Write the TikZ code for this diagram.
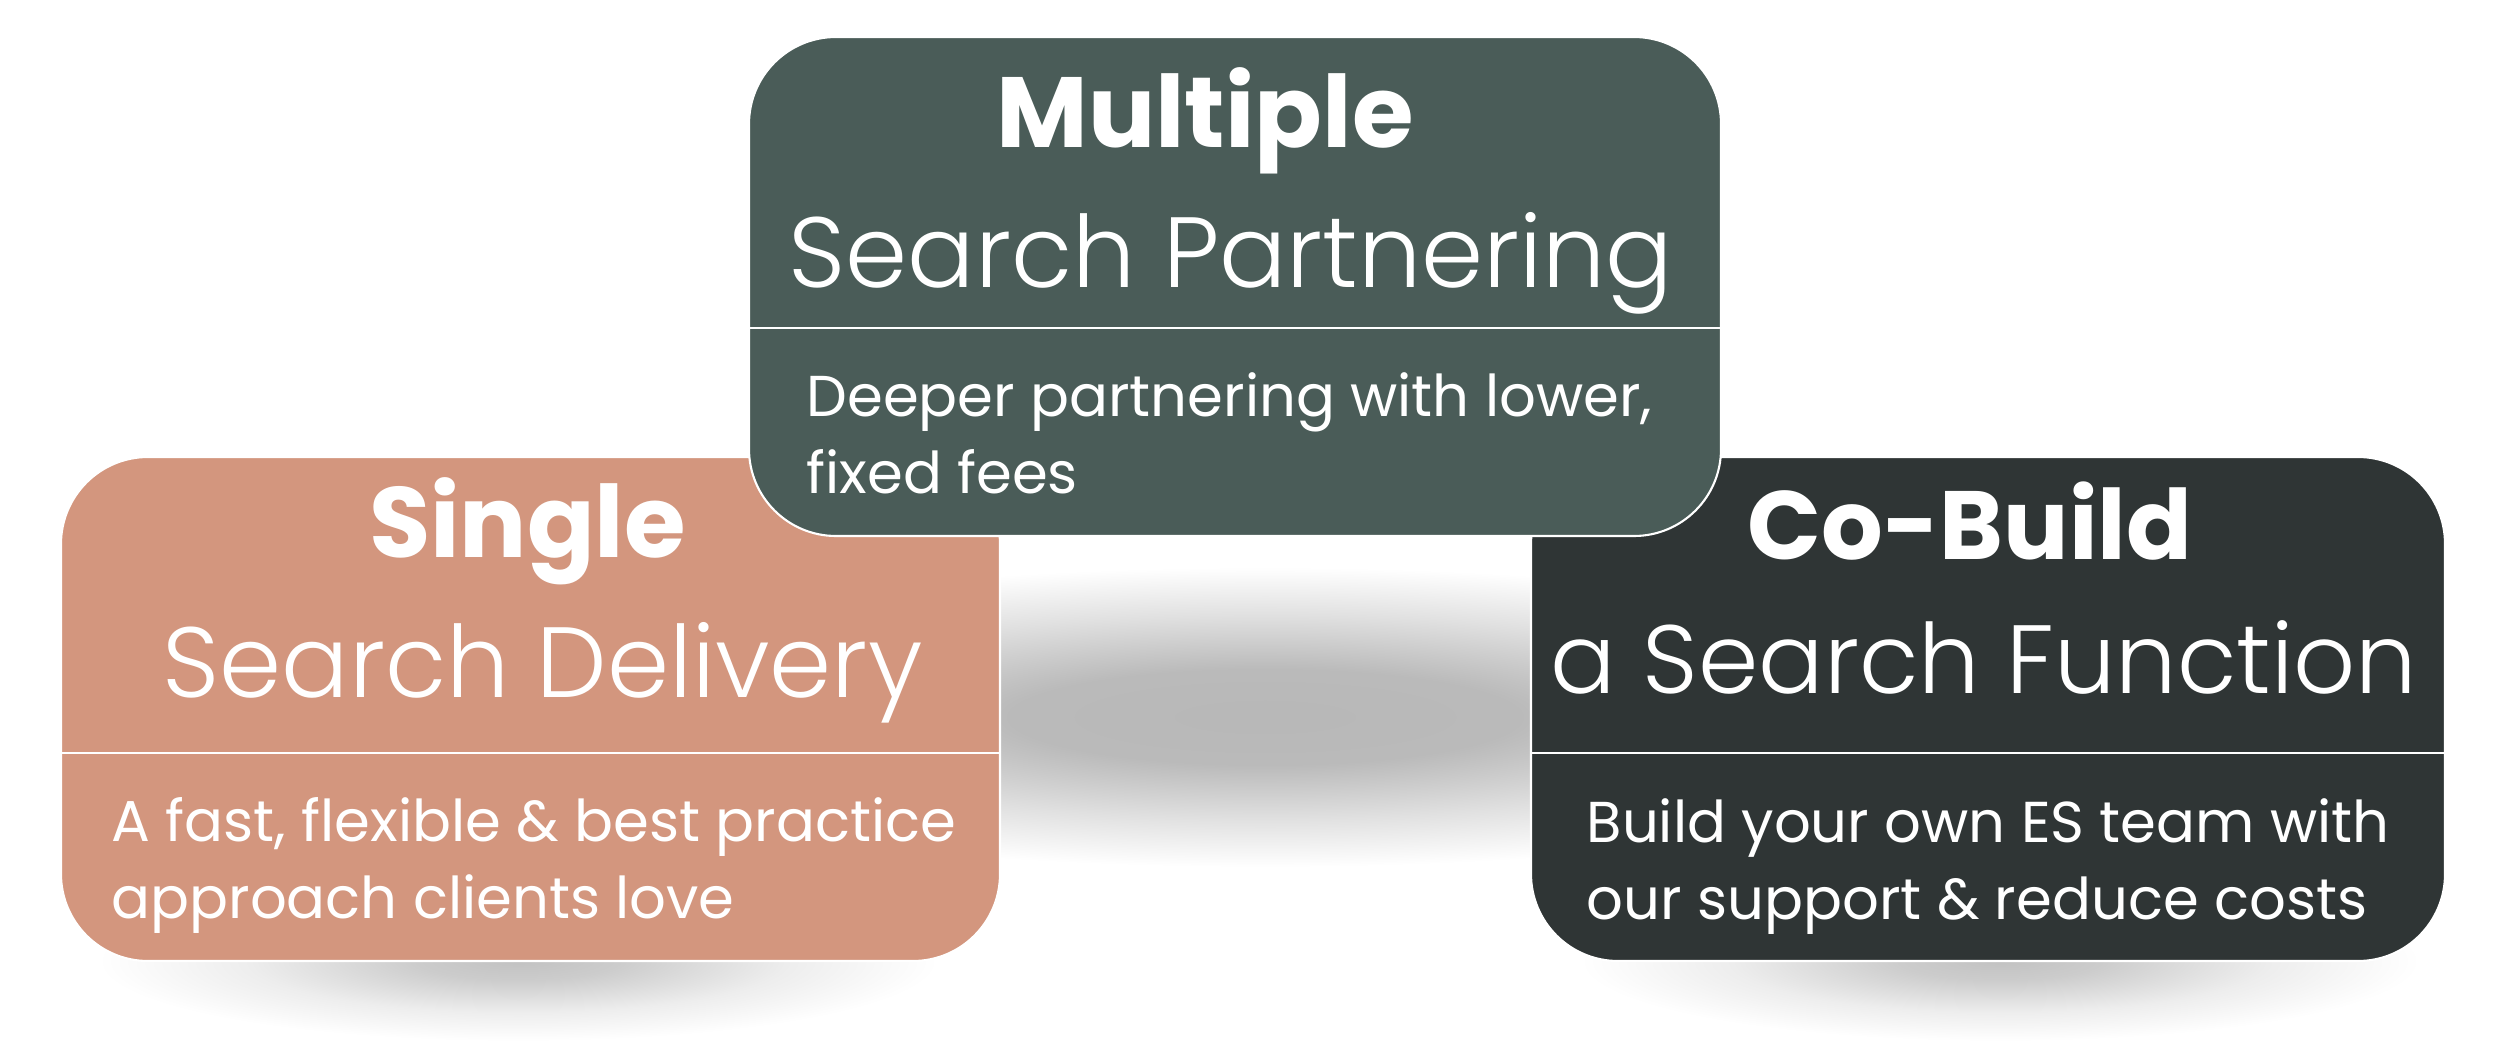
\documentclass[tikz,border=0pt]{standalone}
\usepackage{fontspec}
\setmainfont{Poppins}
\newfontfamily\poplight{Poppins Light}
\usetikzlibrary{positioning,calc}
\definecolor{cardsalmon}{RGB}{211,150,126}
\definecolor{cardgreen}{RGB}{74,92,88}
\definecolor{cardcoal}{RGB}{47,53,53}
\pgfdeclareradialshading{midshadow}{\pgfpoint{0bp}{0bp}}{color(0bp)=(black!28); color(8bp)=(black!27); color(17bp)=(black!12); color(25bp)=(white); color(50bp)=(white)}
\pgfdeclareradialshading{baseshadow}{\pgfpoint{0bp}{0bp}}{color(0bp)=(black!24); color(6bp)=(black!20); color(16bp)=(black!7); color(25bp)=(white); color(50bp)=(white)}
\tikzset{
  cardbox/.style={rectangle,draw=white,line width=0.6pt,
    rounded corners=0.87cm,inner sep=0pt},
  titlebold/.style={font=\fontsize{28.4}{30}\selectfont\bfseries,
    text=white,anchor=base,inner sep=0pt},
  titlelight/.style={font=\fontsize{28.4}{30}\selectfont\poplight,
    text=white,anchor=base,inner sep=0pt},
  cardtext/.style={font=\fontsize{16.4}{21.9}\selectfont,text=white,
    align=left,anchor=base west,inner sep=0pt},
  divider/.style={draw=white,line width=0.6pt}
}

\begin{document}
\begin{tikzpicture}
  \useasboundingbox (0,0) rectangle (25,10.56);
  % Shadows
  \shade[shading=midshadow] (12.65,3.39) ellipse (8 and 1.5);
  \shade[shading=baseshadow] (5.18,0.95) ellipse (4.2 and 0.8);
  \shade[shading=baseshadow] (20.0,0.95) ellipse (4.2 and 0.8);

  % Lower cards
  \node[cardbox,fill=cardsalmon,minimum width=9.39cm,minimum height=5.04cm]
    (single) at (5.305,3.47) {};
  \node[cardbox,fill=cardcoal,minimum width=9.14cm,minimum height=5.04cm]
    (cobuild) at (19.88,3.47) {};
  % Upper card
  \node[cardbox,fill=cardgreen,minimum width=9.72cm,minimum height=4.99cm]
    (multiple) at (12.35,7.695) {};

  % Dividers
  \foreach \c in {single,cobuild,multiple}
    \draw[divider] ([yshift=2.09cm]\c.south west) -- ([yshift=2.09cm]\c.south east);

  % Titles
  \node[titlebold] (singletop) at ([xshift=-0.03cm,yshift=-1.02cm]single.north) {Single};
  \node[titlelight] (singlesub) at ([xshift=0.12cm,yshift=-2.42cm]single.north) {Search Delivery};
  \node[titlebold,font=\fontsize{27.6}{30}\selectfont\bfseries] (cobuildtop)
    at ([xshift=-0.18cm,yshift=-1.04cm]cobuild.north) {Co-Build};
  \node[titlelight,font=\fontsize{27.6}{30}\selectfont\poplight] (cobuildsub)
    at ([xshift=-0.04cm,yshift=-2.38cm]cobuild.north) {a Search Function};
  \node[titlebold] (multipletop) at ([xshift=-0.3cm,yshift=-1.12cm]multiple.north) {Multiple};
  \node[titlelight] (multiplesub) at ([xshift=-0.04cm,yshift=-2.52cm]multiple.north) {Search Partnering};

  % Descriptions
  \node[cardtext] (singletext) at ([xshift=0.51cm,yshift=0.44cm]single.south west)
    {A fast, flexible \& best practice\\approach clients love};
  \node[cardtext] (cobuildtext) at ([xshift=0.56cm,yshift=0.43cm]cobuild.south west)
    {Build your own ES team with\\our support \& reduce costs};
  \node[cardtext] (multipletext) at ([xshift=0.58cm,yshift=0.44cm]multiple.south west)
    {Deeper partnering with lower,\\fixed fees};
\end{tikzpicture}
\end{document}
